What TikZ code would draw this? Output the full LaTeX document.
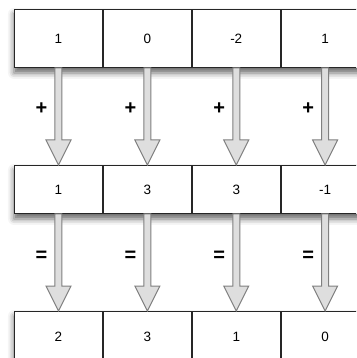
\documentclass[tikz,border=0pt]{standalone}
\usepackage{fontspec}
\setmainfont{Liberation Sans}
\usetikzlibrary{calc,shadows.blur,backgrounds}
\tikzset{
  cell/.style={draw=black!85, line width=0.9pt, fill=white, minimum width=88pt,
    inner sep=0pt, anchor=north west, font=\fontsize{13.5}{16}\selectfont},
  fatarrow/.style={draw=black!50, fill=black!13, line width=1pt, line join=miter},
  op/.style={font=\bfseries\fontsize{20}{22}\selectfont, inner sep=0pt},
  rowshadow/.style={fill=white, blur shadow={shadow xshift=0pt, shadow yshift=-5pt,
    shadow blur radius=6pt, shadow opacity=60}}
}
\newcommand\sumarrow[2]{%
  \draw[fatarrow] ($(#1.south)+(-3.5,0)$) -- ($(#2.north)+(-3.5,-25)$)
    -- ($(#2.north)+(-12.5,-25)$) -- (#2.north) -- ($(#2.north)+(12.5,-25)$)
    -- ($(#2.north)+(3.5,-25)$) -- ($(#1.south)+(3.5,0)$) -- cycle;}
\begin{document}
\begin{tikzpicture}[x=1pt,y=-1pt]
\useasboundingbox (0,0) rectangle (356,358);
\clip (0,0) rectangle (356,358);
% row 1
\node[cell, minimum height=58pt] (a1) at (14,9) {1};
\node[cell, minimum height=58pt] (a2) at (a1.north east) {0};
\node[cell, minimum height=58pt] (a3) at (a2.north east) {-2};
\node[cell, minimum height=58pt] (a4) at (a3.north east) {1};
% row 2
\node[cell, minimum height=48pt] (b1) at (14,165) {1};
\node[cell, minimum height=48pt] (b2) at (b1.north east) {3};
\node[cell, minimum height=48pt] (b3) at (b2.north east) {3};
\node[cell, minimum height=48pt] (b4) at (b3.north east) {-1};
% row 3
\node[cell, minimum height=50pt] (c1) at (14,311) {2};
\node[cell, minimum height=50pt] (c2) at (c1.north east) {3};
\node[cell, minimum height=50pt] (c3) at (c2.north east) {1};
\node[cell, minimum height=50pt] (c4) at (c3.north east) {0};
\begin{pgfonlayer}{background}
  \path[rowshadow] (a1.north west) rectangle (a4.south east);
  \path[rowshadow] (b1.north west) rectangle (b4.south east);
  \path[rowshadow] (c1.north west) rectangle (c4.south east);
\end{pgfonlayer}
\foreach \i in {1,2,3,4}{
  \sumarrow{a\i}{b\i}
  \sumarrow{b\i}{c\i}
  \node[op] (p\i) at ($(a\i.south)!0.42!(b\i.north)+(-17,0)$) {+};
  \node[op] (e\i) at ($(b\i.south)!0.44!(c\i.north)+(-17,0)$) {=};
}
\end{tikzpicture}
\end{document}
